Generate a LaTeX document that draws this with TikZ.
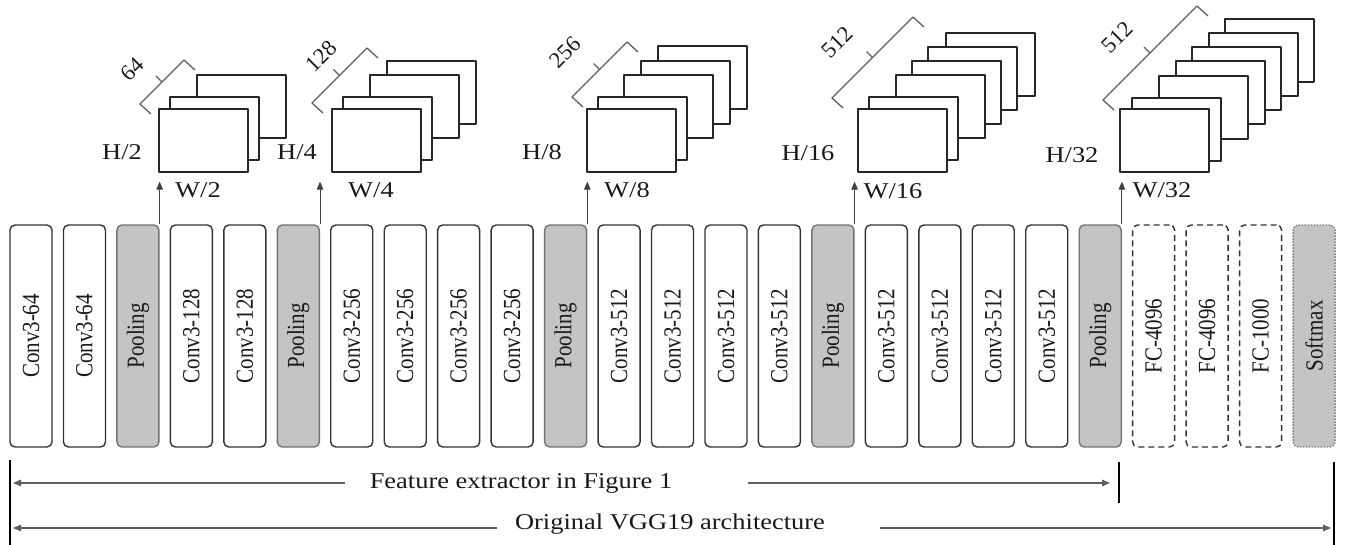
\documentclass[tikz,border=0pt]{standalone}
\usepackage{fontspec}
\setmainfont{Liberation Serif}
\usepackage{tikz}
\usetikzlibrary{arrows.meta}

\definecolor{poolgray}{RGB}{196,196,196}
\definecolor{inkgray}{RGB}{50,50,50}
\definecolor{leadgray}{RGB}{95,95,95}

\newcommand{\boxfont}{\fontsize{21}{21}\selectfont}
\newcommand{\labfont}{\fontsize{22.6}{23}\selectfont}

\begin{document}
\begin{tikzpicture}[x=1pt,y=-1pt,>={Triangle[length=8pt,width=6.5pt]},line join=round,
  vbox/.style={draw=inkgray,line width=1.4pt,rounded corners=5pt,inner sep=0pt,
               minimum width=42pt,minimum height=222pt,font=\boxfont,text=black!90},
  conv/.style={vbox,fill=white},
  pool/.style={vbox,fill=poolgray,draw=black!55},
  fc/.style={vbox,fill=white,dash pattern=on 6pt off 4pt},
  soft/.style={vbox,fill=poolgray,draw=black!50,dash pattern=on 1.5pt off 1.5pt},
  fmap/.style={draw=black!85,line width=1.6pt,fill=white},
  front/.style={fmap,inner sep=0pt,minimum width=89pt,minimum height=63pt,anchor=north west},
  brk/.style={draw=leadgray,line width=1.3pt},
  dimlab/.style={font=\labfont,xscale=1.17,inner sep=0pt,text=black!90},
  numlab/.style={font=\labfont,inner sep=0pt,text=black!90},
  up/.style={->,draw=black!75,line width=1pt,shorten >=9pt},
  lead/.style={->,draw=leadgray,line width=1.3pt},
  edge/.style={draw=black,line width=1.6pt}]

\useasboundingbox (0,0) rectangle (1345,545);

%% ---------------- the 25 layers of VGG19 ----------------
\foreach \lab/\sty [count=\i from 0] in
  {Conv3-64/conv,Conv3-64/conv,Pooling/pool,
   Conv3-128/conv,Conv3-128/conv,Pooling/pool,
   Conv3-256/conv,Conv3-256/conv,Conv3-256/conv,Conv3-256/conv,Pooling/pool,
   Conv3-512/conv,Conv3-512/conv,Conv3-512/conv,Conv3-512/conv,Pooling/pool,
   Conv3-512/conv,Conv3-512/conv,Conv3-512/conv,Conv3-512/conv,Pooling/pool,
   FC-4096/fc,FC-4096/fc,FC-1000/fc,Softmax/soft}
  \node[\sty] (b\i) at (31+53.46*\i,336) {\rotatebox{90}{\scalebox{1}[1.17]{\lab}}};

%% ---------------- feature maps after each pooling ----------------
%% back sheets first, the front sheet is a node so the arrow can reach it
\foreach \dx/\dy in {39/-33,12/-11}
  \draw[fmap] (158+\dx,108+\dy) rectangle ++(89,63);
\node[front] (f1) at (158,108) {};

\foreach \dx/\dy in {56/-47,39/-33,12/-11}
  \draw[fmap] (331+\dx,108+\dy) rectangle ++(89,63);
\node[front] (f2) at (331,108) {};

\foreach \dx/\dy in {72/-62,55/-47,38/-33,12/-11}
  \draw[fmap] (586+\dx,108+\dy) rectangle ++(89,63);
\node[front] (f3) at (586,108) {};

\foreach \dx/\dy in {89/-75,71/-61,55/-47,39/-33,12/-11}
  \draw[fmap] (857+\dx,108+\dy) rectangle ++(89,63);
\node[front] (f4) at (857,108) {};

\foreach \dx/\dy in {106/-89,90/-75,73/-61,57/-47,40/-32,13/-10}
  \draw[fmap] (1119+\dx,108+\dy) rectangle ++(89,63);
\node[front] (f5) at (1119,108) {};

%% arrows from each pooling layer up to its maps
\draw[up] (b2.north east)  -- (b2.north east  |- f1.south);
\draw[up] (b5.north east)  -- (b5.north east  |- f2.south);
\draw[up] (b10.north east) -- (b10.north east |- f3.south);
\draw[up] (b15.north east) -- (b15.north east |- f4.south);
\draw[up] (b20.north east) -- (b20.north east |- f5.south);

%% brackets for the channel counts
\foreach \lx/\ly/\ux/\uy in {140/104/184/60,312/103/367/48,572/97/627/42,
                             832/98/913/17,1103/100/1197/6}
{
  \draw[brk] (\lx+11,\ly+10) -- (\lx,\ly) -- (\ux,\uy) -- (\ux+11,\uy+10);
  \draw[brk] ({(\lx+\ux)/2},{(\ly+\uy)/2}) -- ++(-6,-6);
}
\node[numlab] (c1) at (132,69)  {\rotatebox{45}{64}};
\node[numlab] (c2) at (321,56)  {\rotatebox{45}{128}};
\node[numlab] (c3) at (565,52)  {\rotatebox{45}{256}};
\node[numlab] (c4) at (837,42)  {\rotatebox{45}{512}};
\node[numlab] (c5) at (1117,37) {\rotatebox{45}{512}};

%% sizes
\node[dimlab] (h1) at (122,152)  {H/2};
\node[dimlab] (w1) at (198,190)  {W/2};
\node[dimlab] (h2) at (297,152)  {H/4};
\node[dimlab] (w2) at (371,190)  {W/4};
\node[dimlab] (h3) at (542,152)  {H/8};
\node[dimlab] (w3) at (627,190)  {W/8};
\node[dimlab] (h4) at (808,153)  {H/16};
\node[dimlab] (w4) at (893,191)  {W/16};
\node[dimlab] (h5) at (1072,155) {H/32};
\node[dimlab] (w5) at (1162,190) {W/32};

%% ---------------- extents at the bottom ----------------
\coordinate (vl) at (10,460);
\coordinate (vm) at (1119,462);
\coordinate (vr) at (1334,462);
\draw[edge] (vl) -- (10,545);
\draw[edge] (vm) -- (1119,503);
\draw[edge] (vr) -- (1334,545);

\node[dimlab] (fe) at (521,483) {Feature extractor in Figure 1};
\coordinate (feA) at (345,483);
\coordinate (feB) at (748,483);
\draw[lead] (feA) -- (vl |- feA) [shorten >=3pt];
\draw[lead] (feB) -- (vm |- feB) [shorten >=9pt];

\node[dimlab] (ov) at (670,524) {Original VGG19 architecture};
\coordinate (ovA) at (497,528);
\coordinate (ovB) at (880,528);
\draw[lead] (ovA) -- (vl |- ovA) [shorten >=3pt];
\draw[lead] (ovB) -- (vr |- ovB) [shorten >=3pt];

\end{tikzpicture}
\end{document}
